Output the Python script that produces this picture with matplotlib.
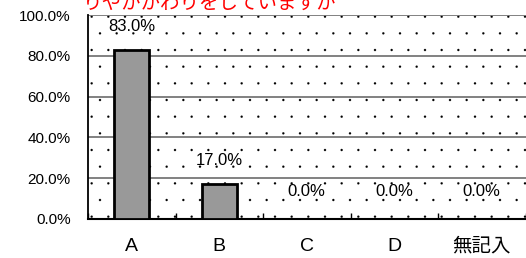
import numpy as np
import matplotlib.pyplot as plt
import matplotlib.hatch
from matplotlib.patches import Rectangle

categories = ['A', 'B', 'C', 'D', '無記入']
values = [83.0, 17.0, 0.0, 0.0, 0.0]
yticks = [0, 20, 40, 60, 80, 100]
title = 'りやかかわりをしていますか'

fonts = ['Liberation Sans', 'Noto Sans CJK JP']
plt.rcParams['font.family'] = fonts
plt.rcParams['hatch.linewidth'] = 0.1
# smaller dots for the '.' hatch
matplotlib.hatch.SmallFilledCircles.size = 0.065

W, H = 526, 258
fig = plt.figure(figsize=(W / 100, H / 100), dpi=100)
ax = fig.add_axes([88 / W, (H - 219) / H, 437.5 / W, 204 / H])

# dotted background
ax.add_patch(Rectangle((0, 0), 1, 1, transform=ax.transAxes, facecolor='white',
                       edgecolor='black', hatch='.', lw=0, zorder=0))

x = np.arange(len(categories))
for yv in yticks[1:]:
    ax.axhline(yv, color='#777777', lw=1.3, zorder=1)

ax.bar(x, values, width=0.4, color='#999999', edgecolor='black', lw=2, zorder=3)
for xi, v in zip(x, values):
    ax.text(xi, v + 11.5 + (2 if v == 0 else 0), f'{v:.1f}%', ha='center', va='center',
            fontsize=12, zorder=4)

ax.set_xlim(-0.5, len(categories) - 0.5)
ax.set_ylim(0, 100)
ax.set_yticks(yticks)
ax.set_yticklabels([f'{t:.1f}%' for t in yticks], fontsize=11)
ax.set_xticks(x)
ax.set_xticklabels(categories, fontsize=14)
ax.set_xticks(np.arange(len(categories) + 1) - 0.5, minor=True)
ax.tick_params(axis='x', which='major', length=0, pad=13.5)
ax.tick_params(axis='x', which='minor', length=4, direction='in', width=1)
ax.tick_params(axis='y', length=0, pad=12.5)

for s in ['top', 'right']:
    ax.spines[s].set_visible(False)
ax.spines['left'].set_linewidth(1.3)
ax.spines['bottom'].set_linewidth(1.5)

fig.text(83 / W, 1 - 9 / H, title, color='red', fontsize=14, ha='left',
         va='baseline', family=['Noto Sans CJK JP'])

fig.savefig('out.png', dpi=100)
